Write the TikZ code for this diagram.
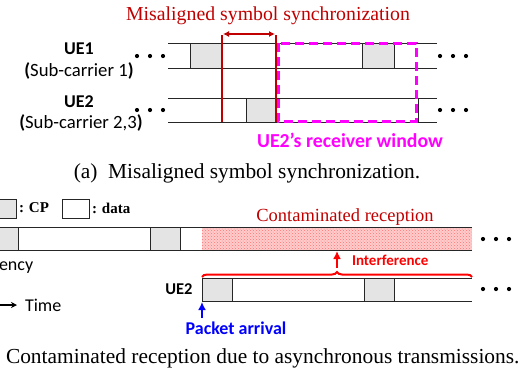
\documentclass[tikz,border=0pt]{standalone}
\usepackage{fontspec}
\setmainfont{Liberation Serif}
\setsansfont{Carlito}
\usetikzlibrary{arrows.meta,patterns,decorations.pathreplacing}
\definecolor{cpgray}{HTML}{E4E4E4}
\definecolor{darkred}{HTML}{C00000}
\definecolor{brightred}{HTML}{FF0000}
\definecolor{winmag}{HTML}{FF00FF}
\definecolor{arrivalblue}{HTML}{0000FF}
\newcommand{\fsz}[1]{\fontsize{#1}{#1}\selectfont}
\begin{document}
\begin{tikzpicture}[x=1pt,y=-1pt,
  rail/.style={draw=black!85,line width=0.9pt},
  cp/.style={draw=black!85,fill=cpgray,line width=0.9pt},
  datab/.style={draw=black!85,fill=white,line width=0.9pt},
  ell/.style={fill=black,circle,inner sep=0pt,minimum size=4.2pt},
  syncline/.style={draw=darkred,line width=1.6pt},
  uelabel/.style={font=\sffamily\bfseries\fsz{18}},
  sublabel/.style={font=\sffamily\fsz{18.7}},
  caption/.style={font=\rmfamily\fsz{21.4}},
  legend/.style={font=\rmfamily\bfseries\fsz{15}},
  bigtip/.style={-{Latex[length=8pt,width=8pt]}},
  inner sep=0pt, outer sep=0pt
]
\useasboundingbox (0,0) rectangle (521,373);
\clip (0,0) rectangle (521,373);

% ---------- (a) misaligned symbol synchronization ----------
\node[font=\rmfamily\fsz{19.8},text=darkred] (mtitle) at (268,16) {Misaligned symbol synchronization};

% UE1 symbol stream
\node[uelabel] (ue1) at (79,49) {UE1};
\node[sublabel] (sub1) at (79,71) {\textbf{(}Sub-carrier 1\textbf{)}};
\draw[rail] (168,43) -- (437,43) (168,68) -- (437,68);
\draw[cp] (190,43) rectangle (222,68);
\draw[cp] (362,43) rectangle (394,68);
\foreach \x in {137,150,163} \node[ell] at (\x,56) {};
\foreach \x in {440,453,466} \node[ell] at (\x,56) {};

% UE2 symbol stream
\node[uelabel] (ue2) at (79,102) {UE2};
\node[sublabel] (sub2) at (81,123) {\textbf{(}Sub-carrier 2,3\textbf{)}};
\draw[rail] (168,98) -- (437,98) (168,122) -- (437,122);
\draw[cp] (246,98) rectangle (276,122);
\draw[rail] (418,98) -- (418,122);
\foreach \x in {137,150,163} \node[ell] at (\x,110) {};
\foreach \x in {440,453,466} \node[ell] at (\x,110) {};

% symbol boundaries of the two streams
\coordinate (b1top) at (222,35);
\coordinate (b1bot) at (222,122);
\coordinate (b2top) at (276,35);
\coordinate (b2bot) at (276,122);
\draw[syncline] (b1top) -- (b1bot);
\draw[syncline] (b2top) -- (b2bot);
\coordinate (offl) at (223,34);
\coordinate (offr) at (275,34);
\draw[darkred,line width=1.6pt,{Latex[length=6pt,width=6pt]}-{Latex[length=6pt,width=6pt]}] (offl) -- (offr);

% receiver window of UE2
\draw[winmag,line width=3pt,dash pattern=on 9pt off 5pt] (278,43) rectangle (416,121);
\node[font=\sffamily\bfseries\fsz{19.8},text=winmag] (win) at (350,140) {UE2’s receiver window};

\node[caption] (capa) at (247,173) {(a)\enspace Misaligned symbol synchronization.};

% ---------- (b) contaminated reception ----------
% legend
\draw[cp] (-12,199) rectangle (16,218);
\node[legend,anchor=west] (lcp) at (19,208) {: CP};
\draw[datab] (62,199) rectangle (89,218);
\node[legend,anchor=west] (ldata) at (92,208) {: data};

% received stream
\fill[red!20] (202,227) rectangle (472,250);
\fill[pattern=crosshatch dots,pattern color=red!55] (202,227) rectangle (472,250);
\draw[rail] (-5,227) -- (472,227) (-5,250) -- (472,250);
\draw[cp] (-12,227) rectangle (18,250);
\draw[cp] (150,227) rectangle (180,250);
\node[font=\rmfamily\fsz{18.5},text=darkred] (cont) at (345,217) {Contaminated reception};
\foreach \x in {483,496,509} \node[ell] at (\x,239) {};

% axes
\node[font=\sffamily\fsz{18},anchor=west] (freq) at (-1,268) {ency};
\coordinate (taxis) at (-5,305);
\node[font=\sffamily\fsz{18},anchor=west] (time) at (25,305) {Time};
\draw[black,line width=1.1pt,-{Stealth[length=6pt,width=6pt]},shorten >=8pt] (taxis) -- (time.west);

% UE2 late stream
\node[font=\sffamily\bfseries\fsz{16.5}] (ue2b) at (179,289) {UE2};
\draw[rail] (202,278) -- (472,278) (202,301) -- (472,301);
\draw[cp] (202,278) rectangle (232,301);
\draw[cp] (364,278) rectangle (394,301);
\draw[rail] (202,278) -- (202,301);
\foreach \x in {483,496,509} \node[ell] at (\x,289) {};

% interference brace and arrow
\draw[brightred,line width=2pt,decorate,decoration={brace,amplitude=5pt}] (202,277) -- (472,277);
\coordinate (btip) at (337,268);
\coordinate (hit) at (337,251);
\draw[brightred,line width=2pt,bigtip] (btip) -- (hit);
\node[font=\sffamily\bfseries\fsz{15},text=brightred,anchor=west] (intf) at (352,260) {Interference};

% packet arrival
\node[font=\sffamily\bfseries\fsz{18},text=arrivalblue] (arr) at (236,328) {Packet arrival};
\coordinate (arrfoot) at (202,318);
\coordinate (arrhead) at (202,302);
\draw[arrivalblue,line width=2pt,bigtip] (arrfoot) -- (arrhead);

\node[caption,anchor=west] (capb) at (6,358) {Contaminated reception due to asynchronous transmissions.};
\end{tikzpicture}
\end{document}
